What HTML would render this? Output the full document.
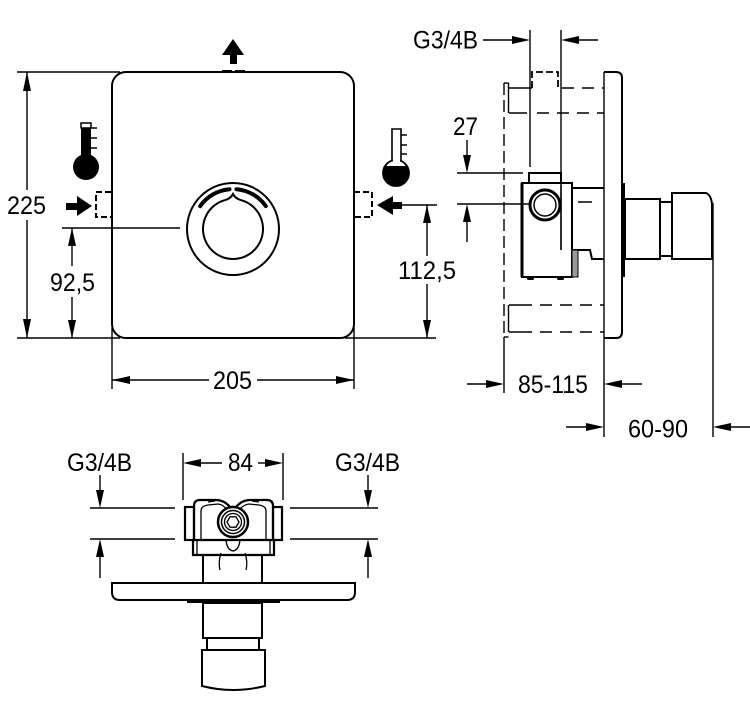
<!DOCTYPE html>
<html><head><meta charset="utf-8"><style>
html,body{margin:0;padding:0;background:#fff;}
svg{display:block;}
text{font-family:"Liberation Sans",Arial,sans-serif;font-size:25px;fill:#000;}
</style></head><body>
<svg width="750" height="703" viewBox="0 0 750 703" xmlns="http://www.w3.org/2000/svg">
<rect width="750" height="703" fill="#fff"/>
<g fill="none" stroke="#000" stroke-width="1.4">
<!-- ===== FRONT VIEW dims ===== -->
<!-- 225 -->
<line x1="17" y1="72" x2="120" y2="72"/>
<line x1="17" y1="338" x2="120" y2="338"/>
<line x1="27" y1="72" x2="27" y2="190"/>
<line x1="27" y1="220" x2="27" y2="338"/>
<!-- 92,5 -->
<line x1="62" y1="228" x2="180" y2="228"/>
<line x1="72" y1="228" x2="72" y2="266"/>
<line x1="72" y1="297" x2="72" y2="338"/>
<!-- 205 -->
<line x1="112" y1="328" x2="112" y2="389"/>
<line x1="354" y1="328" x2="354" y2="389"/>
<line x1="112" y1="380" x2="209" y2="380"/>
<line x1="257" y1="380" x2="354" y2="380"/>
<!-- 112,5 -->
<line x1="345" y1="338" x2="436" y2="338"/>
<line x1="402" y1="205" x2="437" y2="205"/>
<line x1="427" y1="205" x2="427" y2="256"/>
<line x1="427" y1="284" x2="427" y2="338"/>
</g>
<g fill="#000" stroke="none">
<polygon points="27,72 23,91 31,91"/>
<polygon points="27,338 23,319 31,319"/>
<polygon points="72,228 68,246 76,246"/>
<polygon points="72,338 68,320 76,320"/>
<polygon points="112,380 130,376 130,384"/>
<polygon points="354,380 336,376 336,384"/>
<polygon points="427,205 423,223 431,223"/>
<polygon points="427,338 423,320 431,320"/>
</g>

<!-- plate -->
<rect x="112" y="72" width="242" height="266" rx="14" ry="14" fill="none" stroke="#000" stroke-width="2"/>
<line x1="222" y1="71.5" x2="246" y2="71.5" stroke="#000" stroke-width="3" stroke-dasharray="10,3"/>
<!-- up arrow -->
<polygon points="233,39 244,55 222,55" fill="#000"/>
<rect x="230" y="55" width="7" height="9" fill="#000"/>

<!-- knob -->
<circle cx="233" cy="229" r="46" fill="none" stroke="#000" stroke-width="2"/>
<path d="M240,199.8 A30,30 0 1,1 226,199.8 Q231,198 233,194 Q235,198 240,199.8 Z" fill="none" stroke="#000" stroke-width="2"/>
<path d="M200.2,206.1 A40,40 0 0,1 229.5,189.2" fill="none" stroke="#000" stroke-width="4" stroke-linecap="round"/>
<path d="M236.5,189.2 A40,40 0 0,1 265.8,206.1" fill="none" stroke="#000" stroke-width="4" stroke-linecap="round"/>

<!-- left thermometer (hot) -->
<rect x="81" y="123" width="10" height="5" fill="#fff" stroke="#000" stroke-width="1.5"/>
<rect x="81" y="128" width="10" height="32" fill="#000"/>
<circle cx="86" cy="167" r="13" fill="#000"/>
<g stroke="#000" stroke-width="1.5">
<line x1="91" y1="128" x2="97" y2="128"/>
<line x1="91" y1="138" x2="97" y2="138"/>
<line x1="91" y1="148" x2="97" y2="148"/>
</g>
<!-- right thermometer (cold) -->
<path d="M392,162 L392,129 L401,129 L401,162" fill="#fff" stroke="#000" stroke-width="1.6"/>
<circle cx="396" cy="173" r="13" fill="#fff" stroke="#000" stroke-width="1.8"/>
<rect x="393" y="159" width="7" height="5" fill="#fff"/>
<path d="M385,166 L407,166 A13,13 0 1,1 385,166 Z" fill="#000"/>
<g stroke="#000" stroke-width="1.5">
<line x1="401" y1="135" x2="407" y2="135"/>
<line x1="401" y1="145" x2="407" y2="145"/>
<line x1="401" y1="154" x2="407" y2="154"/>
</g>

<!-- inlets -->
<rect x="66" y="203" width="11" height="7" fill="#000"/>
<polygon points="77,196 92,206 77,216" fill="#000"/>
<path d="M111,192 L96,192 L96,217 L111,217" fill="none" stroke="#000" stroke-width="2" stroke-dasharray="6,3"/>
<path d="M354,192 L372,192 L372,217 L354,217" fill="none" stroke="#000" stroke-width="2" stroke-dasharray="6,3"/>
<polygon points="377,205 393,196 393,215" fill="#000"/>
<rect x="393" y="202" width="9" height="7" fill="#000"/>

<!-- ===== SIDE VIEW ===== -->
<g fill="none" stroke="#000" stroke-width="1.4">
<line x1="483" y1="40" x2="520" y2="40"/>
<line x1="530" y1="30" x2="530" y2="167"/>
<line x1="561" y1="30" x2="561" y2="250"/>
<line x1="598" y1="40" x2="570" y2="40"/>
<!-- 27 -->
<line x1="467" y1="140" x2="467" y2="160"/>
<line x1="457" y1="173" x2="523" y2="173"/>
<line x1="457" y1="204" x2="531" y2="204"/>
<line x1="467" y1="242" x2="467" y2="215"/>
<!-- 85-115 -->
<line x1="467" y1="384" x2="495" y2="384"/>
<line x1="504" y1="337" x2="504" y2="393"/>
<line x1="642" y1="384" x2="612" y2="384"/>
<!-- 60-90 -->
<line x1="566" y1="427" x2="594" y2="427"/>
<line x1="604" y1="72" x2="604" y2="437"/>
<line x1="750" y1="427" x2="722" y2="427"/>
<line x1="713" y1="203" x2="713" y2="437"/>
</g>
<g fill="#000">
<polygon points="530,40 512,36 512,44"/>
<polygon points="561,40 579,36 579,44"/>
<polygon points="467,173 463,155 471,155"/>
<polygon points="467,204 463,222 471,222"/>
<polygon points="504,384 486,380 486,388"/>
<polygon points="604,384 622,380 622,388"/>
<polygon points="604,427 586,423 586,431"/>
<polygon points="713,427 731,423 731,431"/>
</g>
<!-- wall / dashed -->
<g fill="none" stroke="#000" stroke-width="1.4">
<line x1="504" y1="83" x2="504" y2="337" stroke-dasharray="12,5"/>
<line x1="508.5" y1="83" x2="508.5" y2="113"/>
<line x1="508.5" y1="305" x2="508.5" y2="332"/>
<line x1="504" y1="83" x2="508.5" y2="83"/>
<line x1="504" y1="337" x2="508.5" y2="337"/>
<line x1="509" y1="88" x2="532" y2="88"/>
<line x1="558" y1="88" x2="604" y2="88" stroke-dasharray="12,8" stroke-dashoffset="-4"/>
<line x1="509" y1="113" x2="527" y2="113"/>
<line x1="537" y1="113" x2="604" y2="113" stroke-dasharray="12,8"/>
<line x1="509" y1="305" x2="532" y2="305"/>
<line x1="540" y1="305" x2="604" y2="305" stroke-dasharray="12,8"/>
<line x1="509" y1="332" x2="532" y2="332"/>
<line x1="540" y1="332" x2="604" y2="332" stroke-dasharray="12,8"/>
</g>
<path d="M532,88 L532,72 L558,72 L558,88" fill="none" stroke="#000" stroke-width="1.8" stroke-dasharray="7,3"/>
<!-- plate side -->
<path d="M604,72 L616,72 Q622,72 622,78 L622,332 Q622,338 616,338 L604,338" fill="none" stroke="#000" stroke-width="2"/>
<rect x="622" y="183" width="3" height="94" fill="#000"/>
<!-- knob side -->
<g fill="none" stroke="#000" stroke-width="2">
<rect x="625" y="199" width="35" height="60"/>
<rect x="660" y="202" width="12" height="54"/>
<path d="M672,193 L706,193 Q711,195 712,204 L712,259 L672,259 Z"/>
<!-- valve body -->
<rect x="529" y="173" width="32" height="10"/>
<path d="M572,188 L604,188 M572,250 L590,250 L592,259 L604,259"/>
<line x1="578" y1="202" x2="592" y2="202" stroke-width="1.5"/>
<rect x="522" y="183" width="50" height="94"/>
</g>
<line x1="522" y1="183" x2="522" y2="277" stroke="#000" stroke-width="3"/>
<rect x="572" y="250" width="6" height="27" fill="#999" stroke="#000" stroke-width="1"/>
<rect x="527" y="276" width="7" height="4" rx="1.5" fill="#000"/>
<rect x="557" y="276" width="7" height="4" rx="1.5" fill="#000"/>
<circle cx="545" cy="205" r="15" fill="#fff" stroke="#000" stroke-width="3"/>
<circle cx="545" cy="205" r="11" fill="none" stroke="#000" stroke-width="1.5"/>
<line x1="561" y1="185" x2="561" y2="250" stroke="#000" stroke-width="1.4"/>

<!-- ===== BOTTOM VIEW ===== -->
<g fill="none" stroke="#000" stroke-width="1.4">
<line x1="183" y1="453" x2="183" y2="500"/>
<line x1="283" y1="453" x2="283" y2="500"/>
<line x1="222" y1="463" x2="195" y2="463"/>
<line x1="258" y1="463" x2="272" y2="463"/>
<line x1="100" y1="475" x2="100" y2="495"/>
<line x1="90" y1="508" x2="175" y2="508"/>
<line x1="90" y1="539" x2="175" y2="539"/>
<line x1="100" y1="578" x2="100" y2="552"/>
<line x1="368" y1="475" x2="368" y2="495"/>
<line x1="290" y1="508" x2="378" y2="508"/>
<line x1="290" y1="539" x2="378" y2="539"/>
<line x1="368" y1="578" x2="368" y2="552"/>
</g>
<g fill="#000">
<polygon points="183,463 201,459 201,467"/>
<polygon points="283,463 265,459 265,467"/>
<polygon points="100,508 96,490 104,490"/>
<polygon points="100,539 96,557 104,557"/>
<polygon points="368,508 364,490 372,490"/>
<polygon points="368,539 364,557 372,557"/>
</g>
<!-- plate bottom view -->
<path d="M112,583 L355,583 L355,592 Q355,600 347,600 L120,600 Q112,600 112,592 Z" fill="none" stroke="#000" stroke-width="2"/>
<rect x="187" y="600" width="93" height="3" fill="#000"/>
<g fill="none" stroke="#000" stroke-width="2">
<path d="M203,555 L203,583 M262,555 L262,583"/>
<rect x="203" y="603" width="59" height="35"/>
<rect x="207" y="638" width="52" height="12"/>
<path d="M202,650 L265,650 L265,686 Q233,694 202,686 Z"/>
</g>
<g fill="none" stroke="#000" stroke-width="1.3">
<path d="M221,553 Q218,562 220,570"/>
<path d="M245,553 Q248,562 246,570"/>
</g>
<!-- valve body bottom view -->
<g fill="none" stroke="#000" stroke-width="2.2">
<rect x="185" y="507" width="9" height="33"/>
<rect x="273" y="507" width="9" height="33"/>
<path d="M194,540 L194,506 Q194,500 200,500 L216,500 Q224,500 230,507 L236,507 Q242,500 250,500 L267,500 Q273,500 273,506 L273,540"/>
<path d="M193,540 L274,540 L274,555 L193,555 Z"/>
</g>
<g fill="none" stroke="#000" stroke-width="1.3">
<path d="M201,540 L201,511 Q201,506 208,505 L218,504 Q225,505 228,512"/>
<path d="M266,540 L266,511 Q266,506 259,505 L249,504 Q242,505 238,512"/>
<line x1="197" y1="540" x2="197" y2="555"/>
<line x1="270" y1="540" x2="270" y2="555"/>
<path d="M226,540 Q227,550 233,551 Q239,550 240,540"/>
<line x1="208" y1="502" x2="215" y2="501"/>
<line x1="252" y1="501" x2="259" y2="502"/>
</g>
<circle cx="233" cy="522" r="15" fill="#fff" stroke="#000" stroke-width="2.5"/>
<circle cx="233" cy="522" r="11.5" fill="none" stroke="#000" stroke-width="1.5"/>
<circle cx="233" cy="522" r="8.5" fill="none" stroke="#000" stroke-width="1.3"/>
<polygon points="239,522 236,527.2 230,527.2 227,522 230,516.8 236,516.8" fill="none" stroke="#000" stroke-width="1.3"/>

<!-- ===== TEXT ===== -->
<text x="7" y="214" textLength="39" lengthAdjust="spacingAndGlyphs">225</text>
<text x="50" y="291" textLength="45" lengthAdjust="spacingAndGlyphs">92,5</text>
<text x="213" y="389" textLength="39" lengthAdjust="spacingAndGlyphs">205</text>
<text x="398" y="279" textLength="58" lengthAdjust="spacingAndGlyphs">112,5</text>
<text x="413" y="48.5" textLength="65" lengthAdjust="spacingAndGlyphs">G3/4B</text>
<text x="453" y="135" textLength="25" lengthAdjust="spacingAndGlyphs">27</text>
<text x="518" y="393" textLength="70" lengthAdjust="spacingAndGlyphs">85-115</text>
<text x="628" y="437.5" textLength="60" lengthAdjust="spacingAndGlyphs">60-90</text>
<text x="67" y="471" textLength="65" lengthAdjust="spacingAndGlyphs">G3/4B</text>
<text x="228" y="471" textLength="25" lengthAdjust="spacingAndGlyphs">84</text>
<text x="335" y="471" textLength="65" lengthAdjust="spacingAndGlyphs">G3/4B</text>
</svg>
</body></html>
